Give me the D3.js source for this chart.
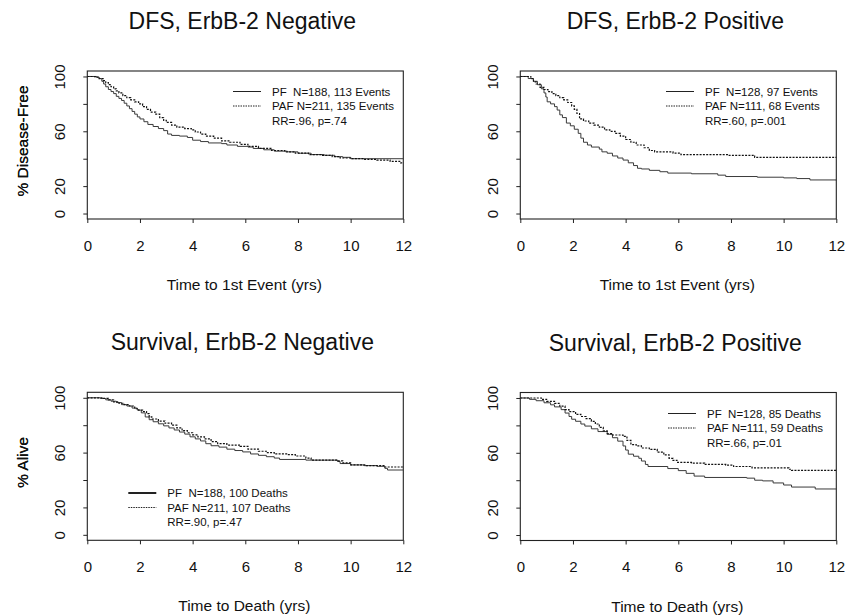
<!DOCTYPE html>
<html>
<head>
<meta charset="utf-8">
<script src="https://cdn.jsdelivr.net/npm/d3@7"></script>
<style>
  html, body { margin: 0; padding: 0; background: #fff; }
  svg { display: block; }
  text { font-family: "Liberation Sans", Arial, Helvetica, sans-serif; fill: #111; }
</style>
</head>
<body>
<svg id="chart" width="847" height="616"></svg>
<script>
// Kaplan–Meier step data: [time (yrs), percent] — each pair is the level from that time on.
const dfsNegPF = [[0,100],[0.35,99.5],[0.45,98.5],[0.55,96.5],[0.62,94.5],[0.7,92.5],[0.8,90.5],[0.9,89],[1.0,87.5],[1.1,85.5],[1.2,84],[1.3,82.5],[1.4,80.5],[1.5,78.5],[1.6,76.5],[1.7,74.5],[1.8,72.5],[1.9,70.5],[2.0,69],[2.15,67],[2.3,65],[2.5,63.5],[2.7,62],[2.9,60.5],[3.05,58],[3.2,57],[3.5,56.5],[3.8,55.5],[4.0,53.5],[4.3,52.5],[4.6,51.5],[5.1,51],[5.3,50],[5.7,49],[6.1,48.5],[6.3,47.5],[6.7,46.5],[7.1,45.5],[7.6,45],[8.0,44],[8.5,43],[9.0,42.5],[9.4,41.5],[9.7,41],[10.0,40],[12,40]];
const dfsNegPAF = [[0,100],[0.3,99.5],[0.45,98.5],[0.6,97],[0.7,95.5],[0.8,94],[0.9,92.5],[1.0,91],[1.1,89.5],[1.2,88],[1.35,86],[1.5,84.5],[1.65,83],[1.8,81.5],[1.95,80],[2.1,78],[2.25,76],[2.4,74],[2.6,72.5],[2.75,70],[2.9,68],[3.0,66.5],[3.2,64.5],[3.4,63],[3.7,62],[3.95,61],[4.1,59.5],[4.3,58],[4.5,56.5],[4.8,55],[5.1,53],[5.4,52],[5.8,50.5],[6.1,49],[6.5,47.5],[7.0,46],[7.5,45],[7.9,44],[8.4,43],[8.9,42.5],[9.3,41.5],[9.6,40.5],[10.0,40],[10.5,39.5],[11.0,39],[11.5,38],[11.9,37],[12,37]];
const dfsPosPF = [[0,100],[0.3,98.5],[0.5,96.5],[0.65,94],[0.8,91],[0.9,88],[0.97,85],[1.02,81.5],[1.15,80],[1.3,78],[1.4,75.5],[1.5,72],[1.6,70],[1.75,66],[1.9,64],[2.05,61.5],[2.2,58.5],[2.3,55],[2.4,52],[2.55,50],[2.7,48.5],[3.0,47],[3.1,45],[3.3,44],[3.5,42],[3.7,40.5],[3.9,39],[4.1,37],[4.3,35],[4.45,33],[4.6,32.5],[4.9,31.5],[5.3,30.5],[5.6,29.5],[6.5,29],[7.5,28],[7.8,27],[9,26.5],[10,26],[10.5,25.5],[11.0,24.5],[12,24]];
const dfsPosPAF = [[0,100],[0.4,98.5],[0.5,96],[0.6,94.5],[0.75,92],[0.9,90.5],[1.05,89],[1.2,87.5],[1.35,86],[1.5,84.5],[1.65,83],[1.8,81],[1.95,78.5],[2.05,76],[2.15,73],[2.25,69],[2.4,67.5],[2.6,66],[2.8,64.5],[3.0,63],[3.2,61],[3.4,60],[3.6,58.5],[3.8,56.5],[4.0,54],[4.2,52],[4.4,50],[4.7,48],[4.9,46],[5.1,45],[5.8,44],[6.1,43],[7.9,42.5],[8.9,41],[12,41]];
const osNegPF = [[0,100],[0.5,99.5],[0.7,98.5],[0.9,97.5],[1.1,96.5],[1.3,95],[1.5,94],[1.7,92.5],[1.9,91],[2.05,89],[2.2,86],[2.35,84],[2.5,82.5],[2.7,81],[2.9,79.5],[3.1,78],[3.3,76.5],[3.5,75],[3.7,73.5],[3.9,71.5],[4.1,70],[4.3,68.5],[4.5,66.5],[4.7,65],[5.0,64],[5.3,62.5],[5.6,61.5],[5.9,60.5],[6.2,59],[6.5,58],[6.8,57],[7.1,56],[7.3,55],[8.3,54.5],[9.5,53.5],[9.6,52],[10.0,51],[10.5,50.5],[11.0,50],[11.3,48.5],[11.4,47.3],[12,47.3]];
const osNegPAF = [[0,100],[0.6,99.5],[0.8,98.5],[1.0,97],[1.2,96],[1.4,95],[1.6,94],[1.8,92],[1.95,91],[2.1,90],[2.25,88.5],[2.35,86],[2.45,84.5],[2.7,83],[2.95,81.5],[3.2,80],[3.4,78],[3.6,76],[3.8,74.5],[4.0,73],[4.2,71.5],[4.45,70],[4.7,68],[4.95,66.5],[5.3,65.5],[5.8,64.5],[6.1,62.5],[6.5,61],[6.8,60],[7.1,59],[7.6,58.5],[7.9,57.5],[8.3,56],[8.5,54.5],[9.5,54],[9.7,52.5],[10.0,51],[10.6,50.5],[11.3,49.5],[12,49.5]];
const osPosPF = [[0,100],[0.35,99],[0.6,98],[0.9,96.5],[1.15,95],[1.3,93.5],[1.55,91.5],[1.7,89],[1.85,86.5],[1.95,84.5],[2.1,83],[2.3,81],[2.45,79.5],[2.7,77.5],[2.95,75.5],[3.3,73.5],[3.5,71],[3.7,68.5],[3.9,65],[4.0,62],[4.1,59],[4.3,57.5],[4.5,56],[4.6,54],[4.75,51.5],[4.85,50],[5.6,48.5],[6.0,47],[6.3,45],[6.6,43],[7.0,42],[8.6,41.5],[8.9,40],[9.2,39.5],[9.6,38],[10.0,36.5],[10.3,35],[11.2,33.6],[12,33.6]];
const osPosPAF = [[0,100],[0.8,99],[1.0,97.5],[1.3,96],[1.5,94],[1.7,91.5],[1.85,90],[2.1,88],[2.3,86.5],[2.5,85],[2.7,83],[2.85,81],[3.0,78.5],[3.15,76],[3.3,74],[3.5,73],[3.9,72],[4.05,69],[4.2,66],[4.4,65],[4.6,63.5],[4.9,62.5],[5.2,60.5],[5.45,58.5],[5.65,56],[5.8,54.5],[5.95,53],[6.5,52.5],[7.0,51.5],[7.8,51],[8.1,50],[8.8,49],[10.2,48],[10.3,47.2],[12,47.2]];

// Panel titles, axis labels and legend text
const panelTitles = ["DFS, ErbB-2 Negative", "DFS, ErbB-2 Positive", "Survival, ErbB-2 Negative", "Survival, ErbB-2 Positive"];
const xTitles = ["Time to 1st Event (yrs)", "Time to 1st Event (yrs)", "Time to Death (yrs)", "Time to Death (yrs)"];
const yTitles = ["% Disease-Free", "% Disease-Free", "% Alive", "% Alive"];
const legendPF = ["PF  N=188, 113 Events", "PF  N=128, 97 Events", "PF  N=188, 100 Deaths", "PF  N=128, 85 Deaths"];
const legendPAF = ["PAF N=211, 135 Events", "PAF N=111, 68 Events", "PAF N=211, 107 Deaths", "PAF N=111, 59 Deaths"];
const legendRR = ["RR=.96, p=.74", "RR=.60, p=.001", "RR=.90, p=.47", "RR=.66, p=.01"];
const pfSeries = [dfsNegPF, dfsPosPF, osNegPF, osPosPF];
const pafSeries = [dfsNegPAF, dfsPosPAF, osNegPAF, osPosPAF];

// Axis ticks
const xTicks = [0, 2, 4, 6, 8, 10, 12];
const yTicks = [0, 20, 40, 60, 80, 100];
const yTickLabels = ["0", "20", "", "60", "", "100"];

// Layout of each plot box
const boxes = [
  { left: 87.3, top: 71, legX: 233, legY: 91.5, thickPF: false },
  { left: 520.3, top: 71, legX: 666, legY: 91.5, thickPF: false },
  { left: 87.3, top: 392.3, legX: 128.3, legY: 493, thickPF: true },
  { left: 520.3, top: 392.5, legX: 668, legY: 413.5, thickPF: false }
];
const W = 316, H = 148;

const svg = d3.select("#chart");

boxes.forEach((b, i) => {
  const x = d3.scaleLinear().domain([0, 12]).range([b.left, b.left + W]);
  const y = d3.scaleLinear().domain([-4, 104]).range([b.top + H, b.top]);
  const g = svg.append("g");

  // Title
  g.append("text")
    .attr("x", b.left + W / 2 - 3)
    .attr("y", b.top - 42)
    .attr("text-anchor", "middle")
    .style("font-size", "23px")
    .text(panelTitles[i]);

  // x axis
  const xAxis = d3.axisBottom(x).tickValues(xTicks).tickSize(4).tickPadding(17).tickFormat(d3.format("d"));
  const gx = g.append("g").attr("transform", `translate(0,${b.top + H})`).call(xAxis);
  gx.select(".domain").remove();
  gx.selectAll("line").attr("stroke", "#222");
  gx.selectAll("text").style("font-size", "15px").attr("fill", "#111").style("font-family", "Liberation Sans, Arial, sans-serif");

  // y axis (labels rotated to read upward)
  const yAxis = d3.axisLeft(y).tickValues(yTicks).tickSize(4).tickFormat((d, k) => yTickLabels[k]);
  const gy = g.append("g").attr("transform", `translate(${b.left},0)`).call(yAxis);
  gy.select(".domain").remove();
  gy.selectAll("line").attr("stroke", "#222");
  gy.selectAll("text")
    .attr("x", null).attr("dy", null)
    .attr("transform", "translate(-22.5,0) rotate(-90)")
    .attr("text-anchor", "middle")
    .attr("fill", "#111")
    .style("font-size", "15px")
    .style("font-family", "Liberation Sans, Arial, sans-serif");

  // Frame
  g.append("rect")
    .attr("x", b.left).attr("y", b.top).attr("width", W).attr("height", H)
    .attr("fill", "none").attr("stroke", "#222").attr("stroke-width", 1.1);

  // Axis titles
  g.append("text")
    .attr("x", b.left + W / 2 - 1)
    .attr("y", b.top + H + 71)
    .attr("text-anchor", "middle")
    .style("font-size", "15.5px")
    .text(xTitles[i]);
  g.append("text")
    .attr("transform", `translate(${28},${b.top + H / 2 - 4}) rotate(-90)`)
    .attr("text-anchor", "middle")
    .style("font-size", "15.5px")
    .text(yTitles[i]);

  // Survival curves
  const line = d3.line().curve(d3.curveStepAfter).x(d => x(d[0])).y(d => y(d[1]));
  g.append("path").datum(pfSeries[i])
    .attr("d", line).attr("fill", "none").attr("stroke", "#3a3a3a").attr("stroke-width", 1);
  g.append("path").datum(pafSeries[i])
    .attr("d", line).attr("fill", "none").attr("stroke", "#111").attr("stroke-width", 1.2)
    .attr("stroke-dasharray", "2,1.3");

  // Legend
  const lg = g.append("g");
  lg.append("line")
    .attr("x1", b.legX).attr("x2", b.legX + 28).attr("y1", b.legY).attr("y2", b.legY)
    .attr("stroke", "#222").attr("stroke-width", b.thickPF ? 2 : 1);
  lg.append("line")
    .attr("x1", b.legX).attr("x2", b.legX + 28).attr("y1", b.legY + 14.5).attr("y2", b.legY + 14.5)
    .attr("stroke", "#222").attr("stroke-width", 1).attr("stroke-dasharray", "1.5,1");
  [legendPF[i], legendPAF[i], legendRR[i]].forEach((t, k) => {
    lg.append("text")
      .attr("x", b.legX + 39)
      .attr("y", b.legY + k * 14.5 + 4)
      .style("font-size", "11.5px")
      .style("white-space", "pre")
      .text(t);
  });
});
</script>
</body>
</html>
